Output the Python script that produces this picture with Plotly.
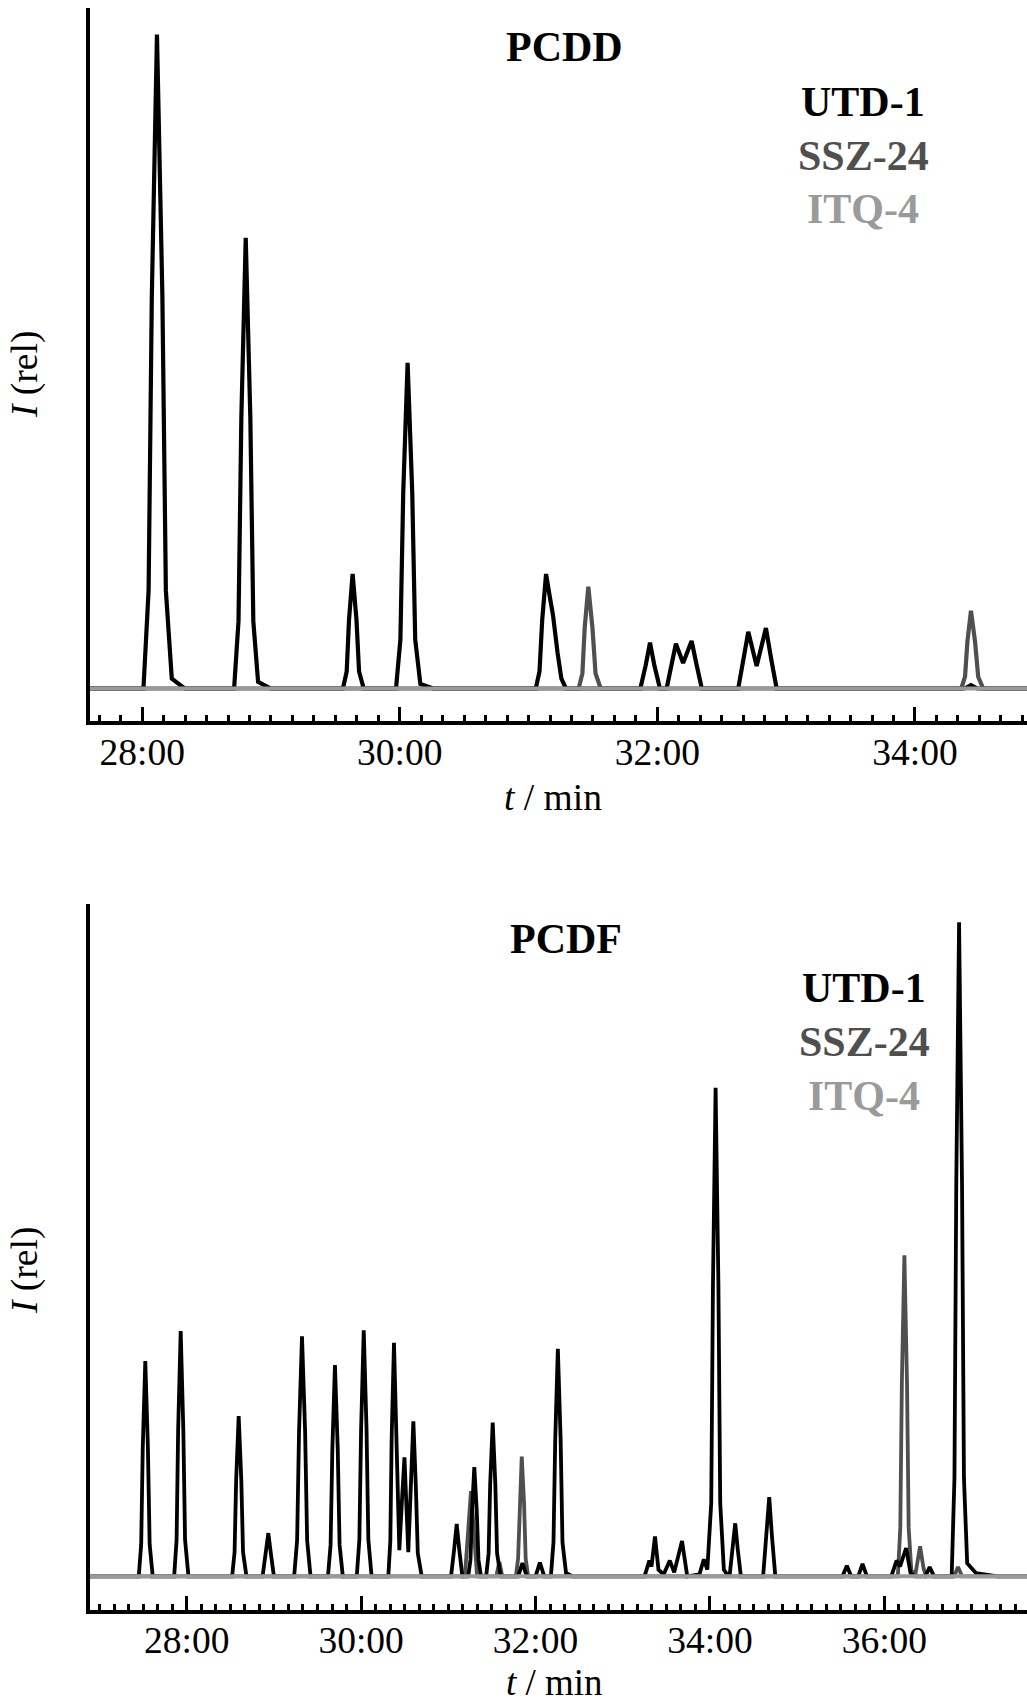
import plotly.graph_objects as go

# ---------------- data (time in min, intensity relative) ----------------
pcdd_ticks = [28, 30, 32, 34]
pcdd_ticklabels = ["28:00", "30:00", "32:00", "34:00"]
pcdf_ticks = [28, 30, 32, 34, 36]
pcdf_ticklabels = ["28:00", "30:00", "32:00", "34:00", "36:00"]

series_names = ["UTD-1", "SSZ-24", "ITQ-4"]
series_colors = ["#000000", "#4f4f4f", "#9a9a9a"]

pcdd_utd_t = [27.595, 28.010, 28.050, 28.075, 28.115, 28.157, 28.184, 28.230, 28.330,
              28.714, 28.748, 28.770, 28.804, 28.840, 28.863, 28.900, 29.000,
              29.559, 29.588, 29.606, 29.634, 29.664, 29.684, 29.720,
              29.971, 30.005, 30.027, 30.061, 30.097, 30.120, 30.160, 30.260,
              31.056, 31.085, 31.106, 31.136, 31.165, 31.190, 31.225, 31.255, 31.290,
              31.868, 31.909, 31.943, 31.977, 32.020,
              32.072, 32.110, 32.144, 32.200, 32.266, 32.305, 32.345,
              32.628, 32.668, 32.706, 32.771, 32.843, 32.883, 32.926,
              34.385, 34.435, 34.485,
              34.870]
pcdd_utd_i = [0, 0, 15, 60, 100, 60, 15, 1.5, 0,
              0, 10.3, 41.3, 68.9, 41.3, 10.3, 1.0, 0,
              0, 2.6, 10.5, 17.5, 10.5, 2.6, 0,
              0, 7.5, 29.9, 49.8, 29.9, 7.5, 0.7, 0,
              0, 2.6, 10.5, 17.5, 14.0, 11.2, 5.5, 1.5, 0,
              0, 3.5, 7.0, 3.5, 0,
              0, 3.4, 6.85, 3.9, 7.26, 3.6, 0,
              0, 4.3, 8.67, 3.44, 9.25, 4.6, 0,
              0, 0.5, 0,
              0]
pcdd_ssz_t = [27.595, 31.389, 31.418, 31.436, 31.464, 31.496, 31.520, 31.560,
              34.360, 34.389, 34.407, 34.435, 34.467, 34.491, 34.530, 34.870]
pcdd_ssz_i = [0, 0, 2.3, 9.3, 15.55, 9.3, 2.3, 0,
              0, 1.8, 7.1, 11.9, 7.1, 1.8, 0, 0]
pcdd_itq_t = [27.595, 34.870]
pcdd_itq_i = [0, 0]

pcdf_utd_t = [26.891,
              27.450, 27.478, 27.496, 27.525, 27.555, 27.575, 27.610,
              27.856, 27.884, 27.902, 27.931, 27.961, 27.981, 28.020,
              28.521, 28.549, 28.567, 28.596, 28.626, 28.646, 28.685,
              28.870, 28.905, 28.936, 28.967, 29.000,
              29.232, 29.266, 29.288, 29.322, 29.358, 29.381, 29.420,
              29.620, 29.650, 29.670, 29.700, 29.732, 29.753, 29.790,
              29.950, 29.980, 30.000, 30.030, 30.062, 30.083, 30.120,
              30.312, 30.335, 30.350, 30.377, 30.405, 30.438, 30.470, 30.497, 30.541,
              30.570, 30.599, 30.627, 30.650, 30.695,
              31.031, 31.066, 31.096, 31.126, 31.161,
              31.228, 31.254, 31.272, 31.298, 31.326, 31.346, 31.375,
              31.434, 31.462, 31.480, 31.509, 31.539, 31.559, 31.600,
              31.800, 31.850, 31.900,
              32.000, 32.050, 32.100,
              32.176, 32.206, 32.226, 32.256, 32.288, 32.309, 32.350, 32.420,
              33.250, 33.305, 33.330, 33.370, 33.410, 33.470, 33.540, 33.590, 33.680, 33.740,
              33.880, 33.930, 33.970,
              34.015, 34.035, 34.065, 34.097, 34.118, 34.160, 34.190,
              34.225, 34.260, 34.290, 34.320, 34.355,
              34.610, 34.648, 34.680, 34.712, 34.750,
              35.520, 35.570, 35.620,
              35.700, 35.750, 35.800,
              36.080, 36.140, 36.180, 36.250, 36.300, 36.350,
              36.470, 36.520, 36.570,
              36.772, 36.804, 36.825, 36.857, 36.891, 36.913, 36.950, 37.050, 37.300,
              37.636]
pcdf_utd_i = [0,
              0, 4.9, 19.7, 32.9, 19.7, 4.9, 0,
              0, 5.6, 22.5, 37.5, 22.5, 5.6, 0,
              0, 3.7, 14.7, 24.5, 14.7, 3.7, 0,
              0, 3.3, 6.6, 3.3, 0,
              0, 5.5, 22.0, 36.7, 22.0, 5.5, 0,
              0, 4.8, 19.4, 32.3, 19.4, 4.8, 0,
              0, 5.6, 22.6, 37.6, 22.6, 5.6, 0,
              0, 5.4, 21.0, 35.7, 21.0, 4.0, 12.0, 18.2, 3.7,
              14.0, 23.7, 14.0, 3.5, 0,
              0, 4.0, 8.0, 4.0, 0,
              0, 2.5, 10.0, 16.7, 10.0, 2.5, 0,
              0, 3.5, 14.1, 23.5, 14.1, 3.5, 0,
              0, 2.0, 0,
              0, 2.1, 0,
              0, 5.2, 20.9, 34.8, 20.9, 5.2, 0.5, 0,
              0, 2.4, 1.5, 6.1, 1.0, 0.3, 2.4, 0.6, 5.4, 0,
              0.3, 2.6, 1.0,
              11.2, 44.8, 74.7, 44.8, 11.2, 1.0, 0.4,
              0, 4.0, 8.1, 4.0, 0,
              0, 6.0, 12.1, 6.0, 0,
              0, 1.6, 0,
              0, 1.9, 0,
              0, 2.4, 1.5, 4.3, 0.5, 0,
              0, 1.4, 0,
              0, 15.0, 60.0, 100, 60.0, 15.0, 2.0, 0.5, 0,
              0]
pcdf_ssz_t = [26.891, 31.190, 31.225, 31.260, 31.295, 31.330,
              31.550, 31.585, 31.620,
              31.775, 31.800, 31.817, 31.842, 31.869, 31.887, 31.915,
              36.155, 36.183, 36.201, 36.230, 36.260, 36.279, 36.310, 36.360, 36.410, 36.450, 36.480,
              36.800, 36.845, 36.890,
              37.636]
pcdf_ssz_i = [0, 0, 6.5, 13.0, 6.5, 0,
              0, 2.2, 0,
              0, 2.7, 11.0, 18.3, 11.0, 2.7, 0,
              0, 7.4, 29.5, 49.1, 29.5, 7.4, 0.8, 0.6, 4.6, 1.2, 0,
              0, 1.4, 0,
              0]
pcdf_itq_t = [26.891, 37.636]
pcdf_itq_i = [0, 0]

# ---------------- figure ----------------
FONT = "Liberation Serif, Times New Roman, serif"
W, H, ML = 1027, 1704, 90

fig = go.Figure()

def add_panel(xa, ya, series, lw):
    # draw order: SSZ-24, UTD-1, ITQ-4 (baseline on top)
    for idx in (1, 0, 2):
        t, i = series[idx]
        fig.add_trace(go.Scatter(x=t, y=i, mode="lines", xaxis=xa, yaxis=ya,
                                 name=series_names[idx], showlegend=False,
                                 line=dict(color=series_colors[idx],
                                           width=lw if idx != 2 else 4)))

add_panel("x", "y", [(pcdd_utd_t, pcdd_utd_i), (pcdd_ssz_t, pcdd_ssz_i),
                     (pcdd_itq_t, pcdd_itq_i)], 4.2)
add_panel("x2", "y2", [(pcdf_utd_t, pcdf_utd_i), (pcdf_ssz_t, pcdf_ssz_i),
                       (pcdf_itq_t, pcdf_itq_i)], 3.8)

def px_y(py):
    return 1 - py / H

def px_x(px):
    return (px - ML) / (W - ML)

xcommon = dict(showline=True, linewidth=3.5, linecolor="black", ticks="inside",
               ticklen=14, tickwidth=3, tickcolor="black", tickmode="array",
               tickfont=dict(family=FONT, size=37.5, color="black"),
               ticklabelstandoff=-5,
               showgrid=False, zeroline=False, automargin=False,
               minor=dict(ticks="inside", ticklen=6, tickwidth=3, tickcolor="black",
                          dtick=1 / 6, tick0=28, showgrid=False))
ycommon = dict(showline=True, linewidth=3.5, linecolor="black", ticks="",
               showticklabels=False, showgrid=False, zeroline=False, automargin=False)

fig.update_layout(
    width=W, height=H, margin=dict(l=ML, r=0, t=0, b=0),
    paper_bgcolor="white", plot_bgcolor="white", showlegend=False,
    xaxis=dict(domain=[0, 1], anchor="y", range=[27.595, 34.870],
               tickvals=pcdd_ticks, ticktext=pcdd_ticklabels, **xcommon),
    yaxis=dict(domain=[px_y(721), px_y(8)], anchor="x", range=[-4.97, 104.05], **ycommon),
    xaxis2=dict(domain=[0, 1], anchor="y2", range=[26.891, 37.636],
                tickvals=pcdf_ticks, ticktext=pcdf_ticklabels, **xcommon),
    yaxis2=dict(domain=[px_y(1609.5), px_y(904)], anchor="x2", range=[-5.08, 102.8], **ycommon),
)

def ann(text, px, py, size, color="black", angle=0):
    fig.add_annotation(text=text, x=px_x(px), y=px_y(py), xref="paper", yref="paper",
                       xanchor="center", yanchor="middle", showarrow=False,
                       textangle=angle, font=dict(family=FONT, size=size, color=color))

# panel titles and series labels
ann("<b>PCDD</b>", 564, 47, 42)
ann("<b>PCDF</b>", 566, 939, 42)
for (name, col, yt, yb) in zip(series_names, series_colors, [102, 156, 209], [988, 1042, 1096]):
    ann("<b>%s</b>" % name, 863, yt, 42, col)
    ann("<b>%s</b>" % name, 864, yb, 42, col)

# axis titles
ann("<i>t</i> / min", 553, 798, 37.5)
ann("<i>t</i> / min", 554, 1682, 37)
ann("<i>I</i> (rel)", 25, 375, 37.5, angle=-90)
ann("<i>I</i> (rel)", 25, 1271, 37.5, angle=-90)

# page without body margin so that the figure fills the window exactly
fig.write_html("out.html", config={"displayModeBar": False},
               post_script="document.body.style.margin='0';document.body.style.overflow='hidden';")
